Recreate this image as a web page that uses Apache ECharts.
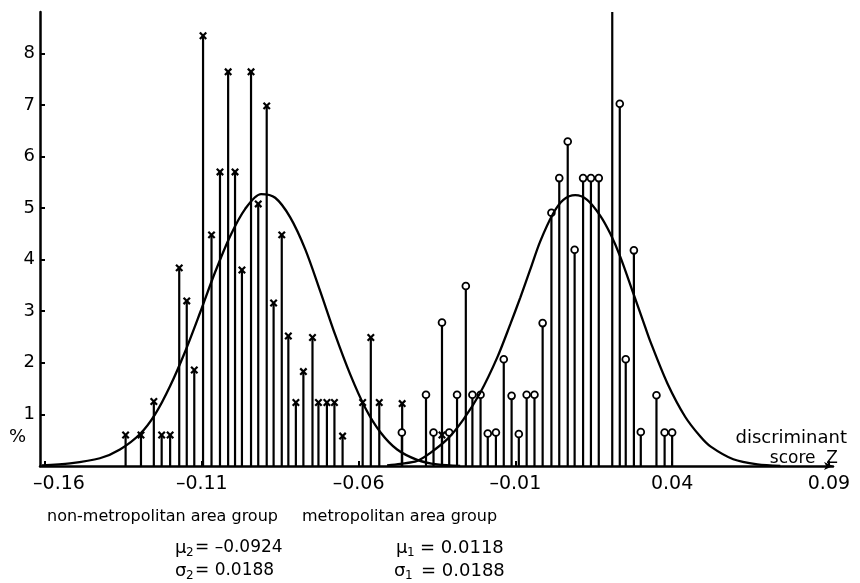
<!DOCTYPE html>
<html>
<head>
<meta charset="utf-8">
<script src="https://cdn.jsdelivr.net/npm/echarts@6/dist/echarts.min.js"></script>
<style>
html,body{margin:0;padding:0;background:#fff;}
#chart{width:860px;height:583px;}
</style>
</head>
<body>
<div id="chart"></div>
<script>
// ---- data ----
const xTicks = [-0.16, -0.11, -0.06, -0.01, 0.04, 0.09];
const yTicks = [1, 2, 3, 4, 5, 6, 7, 8];

// non-metropolitan area group (x markers)
const nonMetroZ = [-0.1343, -0.1294, -0.1253, -0.1228, -0.1201, -0.1172, -0.1148, -0.1124, -0.1096, -0.1069,
  -0.1042, -0.1016, -0.0994, -0.0972, -0.0943, -0.0920, -0.0893, -0.0871, -0.0845, -0.0824,
  -0.0800, -0.0776, -0.0747, -0.0728, -0.0701, -0.0677, -0.0651, -0.0587, -0.0561, -0.0534,
  -0.0461, -0.0334];
const nonMetroPct = [0.6, 0.6, 1.25, 0.6, 0.6, 3.84, 3.2, 1.86, 8.34, 4.48,
  5.70, 7.64, 5.70, 3.80, 7.64, 5.08, 6.98, 3.16, 4.48, 2.52,
  1.23, 1.83, 2.49, 1.23, 1.23, 1.23, 0.58, 1.23, 2.49, 1.23,
  1.21, 0.6];

// metropolitan area group (o markers)
const metroZ = [-0.0462, -0.0385, -0.0361, -0.0334, -0.0311, -0.0286, -0.0258, -0.0237, -0.0211, -0.0188,
  -0.0162, -0.0137, -0.0112, -0.0089, -0.0064, -0.0039, -0.0013, 0.0015, 0.0040, 0.0067,
  0.0089, 0.0116, 0.0141, 0.0166, 0.0233, 0.0252, 0.0278, 0.0300, 0.0350, 0.0376, 0.0400];
const metroPct = [0.65, 1.38, 0.65, 2.78, 0.65, 1.38, 3.49, 1.38, 1.38, 0.63,
  0.65, 2.07, 1.36, 0.62, 1.38, 1.38, 2.77, 4.91, 5.58, 6.29,
  4.19, 5.58, 5.58, 5.58, 7.02, 2.07, 4.18, 0.66, 1.37, 0.65, 0.65];
// metropolitan stem that runs off the top of the chart (no marker)
const metroOffZ = [0.0209];
const metroOffPct = [8.8];

// fitted normal curves as drawn
const nonMetroCurveZ = [-0.1610, -0.152, -0.1425, -0.1361, -0.1297, -0.1249, -0.1201, -0.1153, -0.1105, -0.1058,
  -0.1010, -0.0962, -0.0911, -0.0866, -0.0818, -0.0770, -0.0723, -0.0675, -0.0627, -0.0579,
  -0.0531, -0.0477, -0.0413, -0.0349, -0.0276];
const nonMetroCurvePct = [0.01, 0.05, 0.15, 0.32, 0.62, 1.0, 1.55, 2.22, 2.98, 3.75,
  4.45, 4.98, 5.27, 5.2, 4.82, 4.2, 3.4, 2.55, 1.78, 1.13,
  0.66, 0.32, 0.12, 0.03, 0];
const metroCurveZ = [-0.0509, -0.0467, -0.0413, -0.0372, -0.0317, -0.0266, -0.0212, -0.0158, -0.0116, -0.0084,
  -0.0053, -0.0021, 0.0021, 0.0053, 0.0091, 0.0129, 0.0171, 0.0203, 0.0235, 0.0276,
  0.0308, 0.0330, 0.0385, 0.0442, 0.0490, 0.0522, 0.0595, 0.0672, 0.0745];
const metroCurvePct = [0.01, 0.04, 0.1, 0.25, 0.52, 0.9, 1.42, 2.1, 2.75, 3.27,
  3.8, 4.35, 4.9, 5.16, 5.25, 5.16, 4.85, 4.5, 4.05, 3.35,
  2.8, 2.42, 1.6, 0.95, 0.57, 0.38, 0.13, 0.03, 0];

// ---- chart ----
const FONT = 'DejaVu Sans';
const zip = (a, b) => a.map((v, i) => [v, b[i]]);

function stemSeries(name, xs, ys, marker) {
  return {
    type: 'custom',
    name: name,
    data: zip(xs, ys),
    encode: { x: 0, y: 1 },
    z: marker === 'o' ? 4 : 3,
    renderItem: function (params, api) {
      const x = api.value(0), v = api.value(1);
      const p0 = api.coord([x, 0]);
      const p1 = api.coord([x, v]);
      const st = { stroke: '#000', lineWidth: 2.2 };
      const children = [{ type: 'line', shape: { x1: p0[0], y1: p0[1], x2: p1[0], y2: p1[1] }, style: st }];
      if (marker === 'o') {
        children.push({ type: 'circle', shape: { cx: p1[0], cy: p1[1], r: 3.4 },
          style: { fill: '#fff', stroke: '#000', lineWidth: 1.8 } });
      } else if (marker === 'x') {
        const s = 3.2;
        const xs2 = { stroke: '#000', lineWidth: 2.2 };
        children.push({ type: 'line', shape: { x1: p1[0] - s, y1: p1[1] - s, x2: p1[0] + s, y2: p1[1] + s }, style: xs2 });
        children.push({ type: 'line', shape: { x1: p1[0] - s, y1: p1[1] + s, x2: p1[0] + s, y2: p1[1] - s }, style: xs2 });
      }
      return { type: 'group', children: children };
    }
  };
}

function curveSeries(xs, ys) {
  return {
    type: 'line', data: zip(xs, ys), smooth: 0.3, showSymbol: false, z: 5,
    lineStyle: { color: '#000', width: 2.3 }
  };
}

function fmtZ(v) {
  const a = Math.abs(v).toFixed(2);
  const s = (v < -1e-9 ? '\u2013' : '') + a;
  if (Math.abs(v + 0.16) < 1e-6) return '{f|' + s + '}';
  return s;
}

const chart = echarts.init(document.getElementById('chart'), null, { renderer: 'canvas' });
const txt = (x, y, text, size, extra) => Object.assign({
  type: 'text', x: x, y: y,
  style: Object.assign({ text: text, fill: '#000', font: size + 'px "' + FONT + '"', verticalAlign: 'middle', align: 'left' }, extra || {})
});

chart.setOption({
  animation: false,
  backgroundColor: '#fff',
  grid: { left: 40, right: 27, top: 12, bottom: 117, containLabel: false },
  xAxis: {
    type: 'value', min: -0.1616, max: 0.0913,
    axisLine: { show: true, onZero: false, lineStyle: { color: '#000', width: 2.5 }, symbol: ['none', 'arrow'], symbolSize: [6, 9] },
    axisTick: { show: true, inside: true, length: 5, customValues: xTicks, lineStyle: { color: '#000', width: 2 } },
    axisLabel: {
      customValues: xTicks, formatter: fmtZ, color: '#000', fontFamily: FONT, fontSize: 19, margin: 9,
      hideOverlap: false, showMinLabel: true, showMaxLabel: true,
      rich: { f: { fontFamily: FONT, fontSize: 19, color: '#000', padding: [0, 0, 0, 28] } }
    },
    splitLine: { show: false }
  },
  yAxis: {
    type: 'value', min: 0, max: 8.8,
    axisLine: { show: true, onZero: false, lineStyle: { color: '#000', width: 2.5 } },
    axisTick: { show: true, inside: true, length: 5, customValues: yTicks, lineStyle: { color: '#000', width: 2 } },
    axisLabel: { customValues: yTicks, color: '#000', fontFamily: FONT, fontSize: 18, margin: 5 },
    splitLine: { show: false }
  },
  series: [
    stemSeries('non-metropolitan area group', nonMetroZ, nonMetroPct, 'x'),
    stemSeries('metropolitan area group', metroZ, metroPct, 'o'),
    stemSeries('metropolitan (off scale)', metroOffZ, metroOffPct, 'none'),
    curveSeries(nonMetroCurveZ, nonMetroCurvePct),
    curveSeries(metroCurveZ, metroCurvePct)
  ],
  graphic: [
    txt(9, 437, '%', 18),
    txt(847, 438, 'discriminant', 18, { align: 'right' }),
    txt(838, 459, 'score  Z', 17, { align: 'right' }),
    txt(47, 517, 'non-metropolitan area group', 16),
    txt(302, 517, 'metropolitan area group', 16),
    txt(175, 548, '\u03bc', 18),
    txt(186, 553, '2', 12),
    txt(195, 548, '= \u20130.0924', 17),
    txt(175, 571, '\u03c3', 18),
    txt(186, 576, '2', 12),
    txt(195, 571, '= 0.0188', 17),
    txt(396, 548, '\u03bc', 18),
    txt(407, 553, '1', 12),
    txt(420, 548, '= 0.0118', 18),
    txt(394, 571, '\u03c3', 18),
    txt(405, 576, '1', 12),
    txt(421, 571, '= 0.0188', 18)
  ]
});
</script>
</body>
</html>
